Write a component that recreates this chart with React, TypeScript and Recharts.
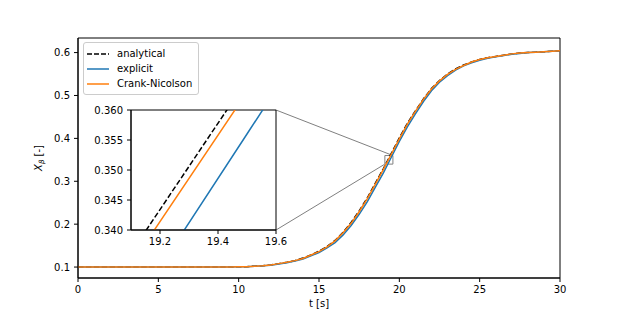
import { LineChart, Line, XAxis, YAxis, ReferenceArea, ReferenceLine, Legend } from "recharts";

// time grid [s]
const time = [
  0, 0.5, 1, 1.5, 2, 2.5, 3, 3.5, 4, 4.5, 5, 5.5, 6, 6.5, 7, 7.5, 8, 8.5, 9, 9.5,
  10, 10.5, 11, 11.5, 12, 12.5, 13, 13.5, 14, 14.5, 15, 15.5, 16, 16.5, 17, 17.5,
  18, 18.5, 19, 19.5, 20, 20.5, 21, 21.5, 22, 22.5, 23, 23.5, 24, 24.5, 25, 25.5,
  26, 26.5, 27, 27.5, 28, 28.5, 29, 29.5, 30,
];

const analytical = [
  0.1, 0.1, 0.1, 0.1, 0.1, 0.1, 0.1, 0.1, 0.1, 0.1, 0.1, 0.1, 0.1, 0.1, 0.1, 0.1, 0.1, 0.1, 0.1, 0.1,
  0.101, 0.101, 0.102, 0.103, 0.105, 0.108, 0.111, 0.115, 0.121, 0.128, 0.137, 0.148, 0.162, 0.181, 0.204, 0.231,
  0.261, 0.295, 0.329, 0.365, 0.401, 0.435, 0.464, 0.492, 0.516, 0.535, 0.55, 0.562, 0.571, 0.578, 0.584, 0.588,
  0.591, 0.594, 0.597, 0.599, 0.6, 0.601, 0.602, 0.603, 0.604,
];

const explicit = [
  0.1, 0.1, 0.1, 0.1, 0.1, 0.1, 0.1, 0.1, 0.1, 0.1, 0.1, 0.1, 0.1, 0.1, 0.1, 0.1, 0.1, 0.1, 0.1, 0.1,
  0.101, 0.101, 0.102, 0.103, 0.104, 0.107, 0.11, 0.114, 0.119, 0.126, 0.134, 0.145, 0.157, 0.175, 0.197, 0.223,
  0.252, 0.286, 0.319, 0.356, 0.393, 0.427, 0.457, 0.486, 0.511, 0.531, 0.546, 0.559, 0.569, 0.576, 0.582, 0.587,
  0.59, 0.593, 0.596, 0.598, 0.6, 0.601, 0.602, 0.603, 0.604,
];

const crankNicolson = [
  0.1, 0.1, 0.1, 0.1, 0.1, 0.1, 0.1, 0.1, 0.1, 0.1, 0.1, 0.1, 0.1, 0.1, 0.1, 0.1, 0.1, 0.1, 0.1, 0.1,
  0.101, 0.101, 0.102, 0.103, 0.105, 0.108, 0.111, 0.115, 0.12, 0.128, 0.136, 0.147, 0.161, 0.18, 0.202, 0.229,
  0.259, 0.293, 0.327, 0.363, 0.399, 0.433, 0.463, 0.491, 0.515, 0.534, 0.549, 0.561, 0.57, 0.578, 0.584, 0.588,
  0.591, 0.594, 0.597, 0.599, 0.6, 0.601, 0.602, 0.603, 0.604,
];

const mainXTicks = [0, 5, 10, 15, 20, 25, 30];
const mainYTicks = [0.1, 0.2, 0.3, 0.4, 0.5, 0.6];
const zoomX = [19.1, 19.6];
const zoomY = [0.34, 0.36];
const zoomXTicks = [19.2, 19.4, 19.6];
const zoomYTicks = [0.34, 0.345, 0.35, 0.355, 0.36];

const rows = time.map((t, i) => ({
  t,
  analytical: analytical[i],
  explicit: explicit[i],
  cn: crankNicolson[i],
}));

const FONT = "DejaVu Sans, sans-serif";
const BLUE = "#1f77b4";
const ORANGE = "#ff7f0e";
const X_DOM: [number, number] = [0, 30];
const Y_DOM: [number, number] = [0.0745, 0.634];

// main plot box in px
const PLOT = { left: 78, right: 560, top: 38, bottom: 278 };
// inset plot box in px
const INSET = { left: 131, right: 276, top: 110, bottom: 230 };

const pxToT = (px: number) => X_DOM[0] + ((px - PLOT.left) / (PLOT.right - PLOT.left)) * (X_DOM[1] - X_DOM[0]);
const pxToV = (py: number) => Y_DOM[1] - ((py - PLOT.top) / (PLOT.bottom - PLOT.top)) * (Y_DOM[1] - Y_DOM[0]);

const tickStyle = { fontSize: 10, fill: "#000", fontFamily: FONT };

const legendItems = [
  { label: "analytical", color: "#000", dash: "5 2" },
  { label: "explicit", color: BLUE, dash: undefined },
  { label: "Crank-Nicolson", color: ORANGE, dash: undefined },
];

function LegendBox() {
  return (
    <div
      style={{
        border: "1px solid #cccccc",
        borderRadius: 3,
        background: "rgba(255,255,255,0.8)",
        padding: "3px 6px 3px 3px",
        fontFamily: FONT,
        fontSize: 10,
        color: "#000",
      }}
    >
      {legendItems.map((it) => (
        <div key={it.label} style={{ display: "flex", alignItems: "center", height: 15 }}>
          <svg width={22} height={10}>
            <line x1={0} x2={22} y1={5} y2={5} stroke={it.color} strokeWidth={1.5} strokeDasharray={it.dash} />
          </svg>
          <span style={{ marginLeft: 8, whiteSpace: "nowrap" }}>{it.label}</span>
        </div>
      ))}
    </div>
  );
}

function YLabel(props: any) {
  const vb = props.viewBox || { x: 0, y: 0, height: 0 };
  const x = vb.x + 42;
  const y = vb.y + vb.height / 2;
  return (
    <text x={x} y={y} transform={`rotate(-90, ${x}, ${y})`} textAnchor="middle" fontFamily={FONT} fontSize={10} fill="#000">
      <tspan fontStyle="italic">X</tspan>
      <tspan fontStyle="italic" fontSize={7} dy={2}>β</tspan>
      <tspan dy={-2}> [-]</tspan>
    </text>
  );
}

function XLabel(props: any) {
  const vb = props.viewBox || { x: 0, y: 0, width: 0 };
  return (
    <text x={vb.x + vb.width / 2} y={307} textAnchor="middle" fontFamily={FONT} fontSize={10} fill="#000">
      t [s]
    </text>
  );
}

export default function App() {
  return (
    <div style={{ position: "absolute", left: 0, top: 0, width: 623, height: 312, background: "#fff", fontFamily: FONT }}>
      <LineChart width={623} height={312} data={rows} margin={{ top: PLOT.top, right: 623 - PLOT.right, bottom: 0, left: 0 }}>
        <XAxis
          dataKey="t"
          type="number"
          domain={X_DOM}
          ticks={mainXTicks}
          height={312 - PLOT.bottom}
          tick={tickStyle}
          tickSize={4}
          tickMargin={4}
          stroke="#000"
          label={XLabel}
        />
        <YAxis
          type="number"
          domain={Y_DOM}
          ticks={mainYTicks}
          width={PLOT.left}
          tick={tickStyle}
          tickSize={4}
          tickMargin={4}
          tickFormatter={(v: number) => v.toFixed(1)}
          stroke="#000"
          allowDataOverflow
          label={YLabel}
        />
        <ReferenceArea x1={X_DOM[0]} x2={X_DOM[1]} y1={Y_DOM[0]} y2={Y_DOM[1]} fill="none" stroke="#000" strokeWidth={1} />
        <ReferenceArea x1={zoomX[0]} x2={zoomX[1]} y1={zoomY[0]} y2={zoomY[1]} fill="none" stroke="#808080" strokeWidth={1} />
        <ReferenceLine
          segment={[{ x: pxToT(INSET.right), y: pxToV(INSET.top) }, { x: zoomX[1], y: zoomY[1] }]}
          stroke="#808080"
          strokeWidth={1}
        />
        <ReferenceLine
          segment={[{ x: pxToT(INSET.right), y: pxToV(INSET.bottom) }, { x: zoomX[0], y: zoomY[0] }]}
          stroke="#808080"
          strokeWidth={1}
        />
        <Line dataKey="analytical" stroke="#000" strokeWidth={1.5} strokeDasharray="5.5 2.4" dot={false} isAnimationActive={false} />
        <Line dataKey="explicit" stroke={BLUE} strokeWidth={1.5} dot={false} isAnimationActive={false} />
        <Line dataKey="cn" stroke={ORANGE} strokeWidth={1.5} dot={false} isAnimationActive={false} />
        <Legend
          layout="vertical"
          align="center"
          verticalAlign="middle"
          content={() => <LegendBox />}
          wrapperStyle={{ position: "absolute", left: 83, top: 42, width: "auto", height: "auto" }}
        />
      </LineChart>

      {/* white face of the inset axes */}
      <div
        style={{
          position: "absolute",
          left: INSET.left,
          top: INSET.top,
          width: INSET.right - INSET.left,
          height: INSET.bottom - INSET.top,
          background: "#fff",
        }}
      />
      <div style={{ position: "absolute", left: 80, top: INSET.top - 10 }}>
        <LineChart width={220} height={150} data={rows} margin={{ top: 10, right: 220 - (INSET.right - 80), bottom: 0, left: 0 }}>
          <XAxis
            dataKey="t"
            type="number"
            domain={zoomX}
            ticks={zoomXTicks}
            allowDataOverflow
            height={150 - 10 - (INSET.bottom - INSET.top)}
            tick={tickStyle}
            tickSize={4}
            tickMargin={4}
            tickFormatter={(v: number) => v.toFixed(1)}
            stroke="#000"
          />
          <YAxis
            type="number"
            domain={zoomY}
            ticks={zoomYTicks}
            allowDataOverflow
            width={INSET.left - 80}
            tick={tickStyle}
            tickSize={4}
            tickMargin={4}
            tickFormatter={(v: number) => v.toFixed(3)}
            stroke="#000"
          />
          <ReferenceArea x1={zoomX[0]} x2={zoomX[1]} y1={zoomY[0]} y2={zoomY[1]} fill="none" stroke="#000" strokeWidth={1} />
          <Line dataKey="analytical" stroke="#000" strokeWidth={1.5} strokeDasharray="5.5 2.4" dot={false} isAnimationActive={false} />
          <Line dataKey="explicit" stroke={BLUE} strokeWidth={1.5} dot={false} isAnimationActive={false} />
          <Line dataKey="cn" stroke={ORANGE} strokeWidth={1.5} dot={false} isAnimationActive={false} />
        </LineChart>
      </div>
    </div>
  );
}
